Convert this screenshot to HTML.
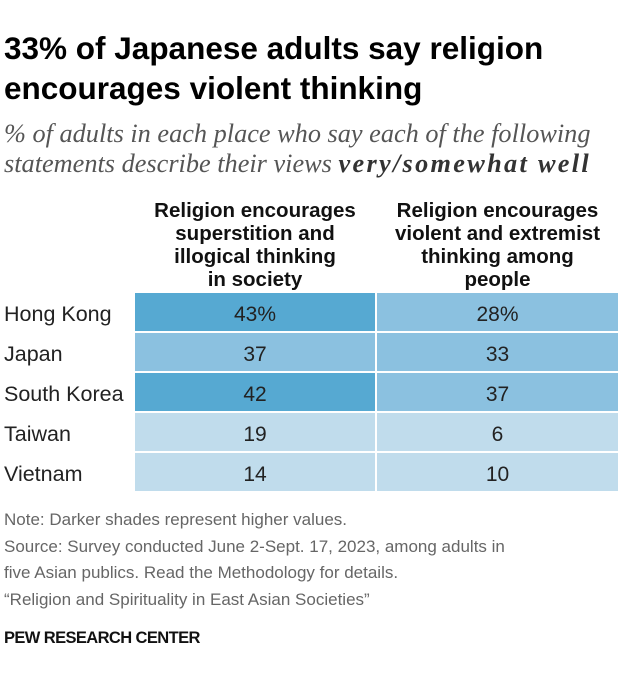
<!DOCTYPE html>
<html><head><meta charset="utf-8"><style>
body{margin:0;width:620px;height:687px;background:#fff;font-family:"Liberation Sans",sans-serif;color:#222;position:relative;overflow:hidden}
.a{position:absolute;margin:0;white-space:nowrap}
h1{position:absolute;left:4px;top:28px;margin:0;font-size:31.5px;line-height:40px;font-weight:bold;color:#000;white-space:nowrap}
.sub{left:4px;top:119px;font-family:"Liberation Serif",serif;font-style:italic;font-size:26.3px;line-height:30px;color:#555}
.sub b{color:#333;letter-spacing:2.3px}
.hd{top:199px;font-weight:bold;font-size:20.5px;line-height:23px;text-align:center;color:#111}
.lbl{left:4px;font-size:21.5px}
.cell{position:absolute;text-align:center;font-size:21px;line-height:44px;height:38px}
.note{left:4px;font-size:17px;line-height:26.6px;color:#666;top:507px}
.pew{left:4px;top:629px;font-size:16.5px;font-weight:bold;color:#111;letter-spacing:-0.6px}
</style></head><body>
<h1>33% of Japanese adults say religion<br>encourages violent thinking</h1>
<p class="a sub">% of adults in each place who say each of the following<br>statements describe their views <b>very/somewhat well</b></p>
<div class="a hd" style="left:135px;width:240px">Religion encourages<br>superstition and<br>illogical thinking<br>in society</div>
<div class="a hd" style="left:377px;width:241px">Religion encourages<br>violent and extremist<br>thinking among<br>people</div>
<div id="tbl"></div>
<div class="a note">Note: Darker shades represent higher values.<br>Source: Survey conducted June 2-Sept. 17, 2023, among adults in<br>five Asian publics. Read the Methodology for details.<br>“Religion and Spirituality in East Asian Societies”</div>
<div class="a pew">PEW RESEARCH CENTER</div>
<script>
const places=["Hong Kong","Japan","South Korea","Taiwan","Vietnam"];
const superstition=[43,37,42,19,14];
const violent=[28,33,37,6,10];
const series=[superstition,violent];
const colX=[135,377],colW=[240,241];
function rowY(i){return 293+i*40;}
function shade(v){return v>=40?"#56a9d2":v>=20?"#8bc1e0":"#c0dcec";}
const t=document.getElementById('tbl');
places.forEach((p,i)=>{
  const l=document.createElement('div');
  
  
  l.className='a lbl';l.style.top=rowY(i)+'px';l.style.lineHeight='42px';l.textContent=p;t.appendChild(l);
  series.forEach((s,j)=>{
    const c=document.createElement('div');
    
    
    c.className='cell';c.style.left=colX[j]+'px';c.style.width=colW[j]+'px';c.style.top=rowY(i)+'px';
    c.style.background=shade(s[i]);c.textContent=s[i]+(i===0?'%':'');t.appendChild(c);
  });
});
</script>
</body></html>
